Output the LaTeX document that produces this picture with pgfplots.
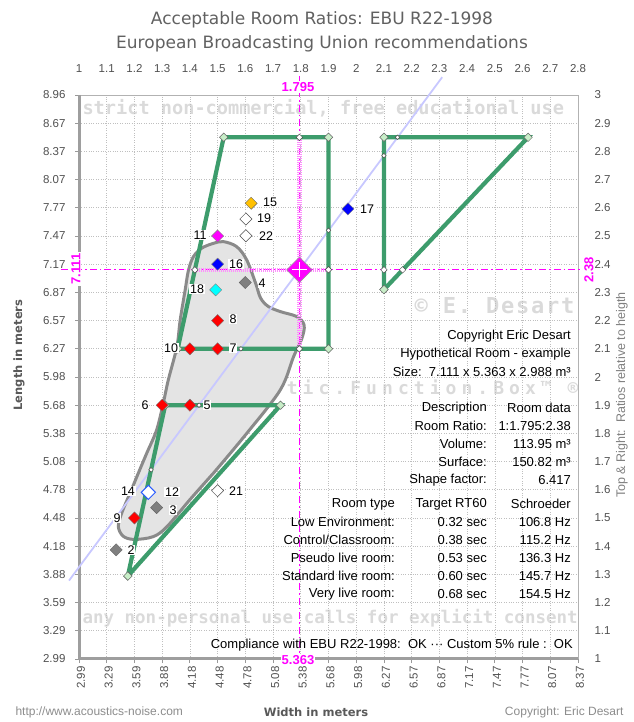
\documentclass[border=0pt]{standalone}
\usepackage{pgfplots}
\pgfplotsset{compat=1.18}
\usepackage{fontspec}
\setmainfont{Liberation Sans}
\newfontfamily\titlefont{DejaVu Sans}
\newfontfamily\wmfont{DejaVu Sans Mono}
\definecolor{egreen}{HTML}{3D9C6C}
\definecolor{vgreen}{HTML}{C8EEC8}
\definecolor{blobfill}{HTML}{E4E4E4}
\definecolor{blobline}{HTML}{8A8A8A}
\definecolor{diag}{HTML}{C8C8FF}
\definecolor{mag}{HTML}{FF00FF}
\definecolor{wmgray}{HTML}{DADADA}
\definecolor{tickc}{HTML}{505050}
\definecolor{gold}{HTML}{FFC000}
\definecolor{ptgray}{HTML}{7F7F7F}
\definecolor{ptblue}{HTML}{0000FF}
\definecolor{ptcyan}{HTML}{00FFFF}
\definecolor{outblue}{HTML}{2A5CFF}
\newcommand\tickfont{\fontsize{11.5}{12}\selectfont}
\tikzset{num/.style={fill=white, inner sep=0.8pt, font=\fontsize{12.5}{13}\selectfont},
  tx/.style={anchor=east, inner sep=0pt, font=\fontsize{13}{14}\selectfont},
  mlab/.style={fill=white, inner sep=1pt, text=mag, font=\bfseries\fontsize{13}{14}\selectfont}}
\begin{document}
\begin{tikzpicture}[x=1pt,y=1pt]
\useasboundingbox (0,0) rectangle (633,722);
% watermarks
\node[anchor=west, text=wmgray, font=\wmfont\bfseries\fontsize{18.6}{20}\selectfont] at (79,614) {strict non-commercial, free educational use};
\node[anchor=west, text=wmgray, font=\wmfont\bfseries\fontsize{17.5}{19}\selectfont] at (79,104) {any non-personal use calls for explicit consent};
\node[anchor=east, text=wmgray, font=\wmfont\bfseries\fontsize{22}{24}\selectfont\addfontfeature{LetterSpace=8}] at (578,416) {© E. Desart};
\node[anchor=east, text=wmgray, font=\wmfont\bfseries\fontsize{18}{20}\selectfont\addfontfeature{LetterSpace=28}] at (582,335) {Acoustic.Function.Box™ ®};

\begin{axis}[
  at={(79pt,63pt)}, anchor=south west, scale only axis,
  width=499pt, height=564pt,
  xmin=1, xmax=2.8, ymin=1, ymax=3,
  clip=false,
  axis line style={draw=none},
  xtick={1,1.1,1.2,1.3,1.4,1.5,1.6,1.7,1.8,1.9,2,2.1,2.2,2.3,2.4,2.5,2.6,2.7,2.8},
  ytick={1,1.1,1.2,1.3,1.4,1.5,1.6,1.7,1.8,1.9,2,2.1,2.2,2.3,2.4,2.5,2.6,2.7,2.8,2.9,3},
  xticklabels={2.99,3.29,3.59,3.88,4.18,4.48,4.78,5.08,5.38,5.68,5.98,6.27,6.57,6.87,7.17,7.47,7.77,8.07,8.37},
  yticklabels={2.99,3.29,3.59,3.88,4.18,4.48,4.78,5.08,5.38,5.68,5.98,6.27,6.57,6.87,7.17,7.47,7.77,8.07,8.37,8.67,8.96},
  xtick pos=left, ytick pos=left, tick align=outside, major tick length=4pt,
  tick style={black!40, line width=0.8pt},
  grid=major, major grid style={black!25, line width=0.6pt, dash pattern=on 0.8pt off 1.6pt},
  ticklabel style={font=\tickfont, text=tickc},
  xticklabel style={rotate=90, anchor=east, yshift=-2pt},
  yticklabel style={xshift=-6pt},
  /pgf/number format/assume math mode=true,
]
% frame
\draw[black!30, line width=0.8pt] (axis cs:1,3) -- (axis cs:2.8,3) -- (axis cs:2.8,1);
\draw[black!38, line width=3pt] (axis cs:1,3) -- (axis cs:1,1) -- (axis cs:2.8,1);
% gray blob
\addplot[smooth, tension=0.55, draw=blobline, line width=3pt, fill=blobfill] coordinates {
(1.485,1.659)(1.605,1.800)(1.726,1.954)(1.774,2.072)(1.804,2.137)(1.812,2.184)(1.786,2.214)
(1.726,2.232)(1.683,2.250)(1.655,2.280)(1.638,2.330)(1.605,2.415)(1.569,2.462)(1.521,2.480)
(1.485,2.474)(1.443,2.457)(1.413,2.427)(1.395,2.379)(1.383,2.309)(1.365,2.202)(1.353,2.107)
(1.322,1.989)(1.304,1.907)(1.280,1.812)(1.244,1.729)(1.214,1.659)(1.184,1.588)(1.154,1.517)
(1.142,1.469)(1.160,1.435)(1.200,1.424)(1.268,1.434)(1.317,1.469)(1.400,1.565)(1.485,1.659)};
% constant l/w line
\addplot[diag, line width=1.8pt] coordinates {(0.964,1.278) (2.31,3.063)};
% magenta dash-dot
\addplot[mag, line width=1.2pt, dash pattern=on 7pt off 3pt on 1.5pt off 3pt] coordinates {(1.795,3.068) (1.795,0.998)};
\addplot[mag, line width=1.2pt, dash pattern=on 7pt off 3pt on 1.5pt off 3pt] coordinates {(0.935,2.38) (2.87,2.38)};
% pink bands
\addplot[mag!45, line width=4.5pt, dash pattern=on 1pt off 1pt] coordinates {(1.795,2.1) (1.795,2.85)};
\addplot[mag!45, line width=4.5pt, dash pattern=on 1pt off 1pt] coordinates {(1.418,2.38) (1.9,2.38)};
% green polygons
\addplot[egreen, line width=4.2pt, mark=square*, mark size=3pt, mark options={rotate=45, fill=vgreen, draw=black!60, line width=0.5pt, solid}] coordinates {(1.176,1.294) (1.311,1.9) (1.727,1.9) (1.176,1.294)};
\addplot[egreen, line width=4.2pt, mark=square*, mark size=3pt, mark options={rotate=45, fill=vgreen, draw=black!60, line width=0.5pt, solid}] coordinates {(1.356,2.1) (1.9,2.1) (1.9,2.85) (1.522,2.85) (1.356,2.1)};
\addplot[egreen, line width=4.2pt, mark=square*, mark size=3pt, mark options={rotate=45, fill=vgreen, draw=black!60, line width=0.5pt, solid}] coordinates {(2.1,2.31) (2.1,2.85) (2.62,2.85) (2.1,2.31)};
% intersection markers
\addplot[only marks, mark=square*, mark size=2.3pt, mark options={rotate=45, fill=white, draw=black!70, line width=0.5pt}] coordinates {(1.795,2.85)(1.795,2.1)(1.9,2.38)(1.418,2.38)(2.1,2.38)(2.167,2.38)};
\addplot[only marks, mark=square*, mark size=1.6pt, mark options={rotate=45, fill=white, draw=black!70, line width=0.5pt}] coordinates {(2.149,2.85)(2.1,2.785)(1.9,2.52)(1.584,2.1)(1.433,1.9)(1.260,1.671)};
% data points
\addplot[only marks, mark=square*, mark size=4.3pt, mark options={rotate=45, fill=red, draw=black!55, line width=0.4pt}] coordinates {(1.5,2.2)(1.4,2.1)(1.5,2.1)(1.3,1.9)(1.4,1.9)(1.2,1.5)};
\addplot[only marks, mark=square*, mark size=4.3pt, mark options={rotate=45, fill=ptgray, draw=black!60, line width=0.4pt}] coordinates {(1.6,2.335)(1.28,1.537)(1.134,1.387)};
\addplot[only marks, mark=square*, mark size=4.3pt, mark options={rotate=45, fill=gold, draw=black!60, line width=0.4pt}] coordinates {(1.621,2.616)};
\addplot[only marks, mark=square*, mark size=4.3pt, mark options={rotate=45, fill=white, draw=black!70, line width=0.5pt}] coordinates {(1.602,2.560)(1.602,2.501)(1.5,1.597)};
\addplot[only marks, mark=square*, mark size=4.3pt, mark options={rotate=45, fill=mag, draw=black!50, line width=0.4pt}] coordinates {(1.5,2.5)};
\addplot[only marks, mark=square*, mark size=4.3pt, mark options={rotate=45, fill=ptblue, draw=black!50, line width=0.4pt}] coordinates {(1.97,2.596)(1.5,2.4)};
\addplot[only marks, mark=square*, mark size=4.3pt, mark options={rotate=45, fill=ptcyan, draw=black!50, line width=0.4pt}] coordinates {(1.493,2.309)};
\addplot[only marks, mark=square*, mark size=5pt, mark options={rotate=45, fill=white, draw=outblue, line width=1pt}] coordinates {(1.25,1.591)};
% room point
\addplot[only marks, mark=square*, mark size=9pt, mark options={rotate=45, fill=mag, draw=black!40, line width=0.5pt}] coordinates {(1.795,2.38)};
\addplot[only marks, mark=+, mark size=7.5pt, mark options={white, line width=1pt}] coordinates {(1.795,2.38)};
\end{axis}

\begin{axis}[
  at={(79pt,63pt)}, anchor=south west, scale only axis,
  width=499pt, height=564pt,
  xmin=1, xmax=2.8, ymin=1, ymax=3,
  axis x line*=top, axis y line*=right, axis line style={draw=none},
  major tick length=0pt, tick style={draw=none},
  xtick={1,1.1,1.2,1.3,1.4,1.5,1.6,1.7,1.8,1.9,2,2.1,2.2,2.3,2.4,2.5,2.6,2.7,2.8},
  ytick={1,1.1,1.2,1.3,1.4,1.5,1.6,1.7,1.8,1.9,2,2.1,2.2,2.3,2.4,2.5,2.6,2.7,2.8,2.9,3},
  xticklabels={1,1.1,1.2,1.3,1.4,1.5,1.6,1.7,1.8,1.9,2,2.1,2.2,2.3,2.4,2.5,2.6,2.7,2.8},
  yticklabels={1,1.1,1.2,1.3,1.4,1.5,1.6,1.7,1.8,1.9,2,2.1,2.2,2.3,2.4,2.5,2.6,2.7,2.8,2.9,3},
  ticklabel style={font=\tickfont, text=tickc},
  xticklabel style={yshift=19pt},
  yticklabel style={xshift=13pt},
  /pgf/number format/assume math mode=true,
]
\end{axis}

% titles
\node[text=black!62, font=\titlefont\fontsize{17}{19}\selectfont] at (322,702) {Acceptable Room Ratios: EBU R22-1998};
\node[text=black!62, font=\titlefont\fontsize{17}{19}\selectfont] at (322,678) {European Broadcasting Union recommendations};
% axis titles
\node[rotate=90, text=black!65, font=\titlefont\bfseries\fontsize{11.5}{13}\selectfont] at (19,367) {Length in meters};
\node[text=black!65, font=\titlefont\bfseries\fontsize{11.5}{13}\selectfont] at (316,10) {Width in meters};
\node[rotate=90, text=black!50, font=\fontsize{12.5}{14}\selectfont] at (622,327) {Top \& Right:\ \ Ratios relative to heigth};
\node[anchor=west, text=black!45, font=\fontsize{12}{14}\selectfont] at (12,10) {http://www.acoustics-noise.com};
\node[anchor=east, text=black!45, font=\fontsize{12}{14}\selectfont] at (627,10) {Copyright: Eric Desart};
% magenta labels
\node[mlab] at (298,635) {1.795};
\node[mlab] at (298,62) {5.363};
\node[mlab, rotate=90] at (76,453) {7.111};
\node[mlab, rotate=90] at (589,452) {2.38};
% point numbers
\node[num] at (270,520) {15};
\node[num] at (264,504) {19};
\node[num] at (266,486) {22};
\node[num] at (200,487) {11};
\node[num] at (367,513) {17};
\node[num] at (236,458) {16};
\node[num] at (262,439) {4};
\node[num] at (197,433) {18};
\node[num] at (233,403) {8};
\node[num] at (171,374) {10};
\node[num] at (233,374) {7};
\node[num] at (145,317) {6};
\node[num] at (207,317) {5};
\node[num] at (128,231) {14};
\node[num] at (172,230) {12};
\node[num] at (173,212) {3};
\node[num] at (117,204) {9};
\node[num] at (131,172) {2};
\node[num] at (236,231) {21};
% info text
\node[tx] at (571,386) {Copyright Eric Desart};
\node[tx] at (571,368) {Hypothetical Room - example};
\node[tx] at (571,350) {Size:\ \ 7.111 x 5.363 x 2.988 m³};
\node[tx] at (487,314) {Description};  \node[tx] at (571,314) {Room data};
\node[tx] at (487,296) {Room Ratio:};   \node[tx] at (571,296) {1:1.795:2.38};
\node[tx] at (487,278) {Volume:};       \node[tx] at (571,278) {113.95 m³};
\node[tx] at (487,260) {Surface:};      \node[tx] at (571,260) {150.82 m³};
\node[tx] at (487,242) {Shape factor:}; \node[tx] at (571,242) {6.417};
\node[tx] at (395,218) {Room type};          \node[tx] at (487,218) {Target RT60}; \node[tx] at (571,218) {Schroeder};
\node[tx] at (395,200) {Low Environment:};   \node[tx] at (487,200) {0.32 sec};    \node[tx] at (571,200) {106.8 Hz};
\node[tx] at (395,182) {Control/Classroom:}; \node[tx] at (487,182) {0.38 sec};    \node[tx] at (571,182) {115.2 Hz};
\node[tx] at (395,164) {Pseudo live room:};  \node[tx] at (487,164) {0.53 sec};    \node[tx] at (571,164) {136.3 Hz};
\node[tx] at (395,146) {Standard live room:};\node[tx] at (487,146) {0.60 sec};    \node[tx] at (571,146) {145.7 Hz};
\node[tx] at (395,128) {Very live room:};    \node[tx] at (487,128) {0.68 sec};    \node[tx] at (571,128) {154.5 Hz};
\node[tx] at (573,77) {Compliance with EBU R22-1998:\ \ OK ··· Custom 5\% rule :\ \ OK};
\end{tikzpicture}
\end{document}
